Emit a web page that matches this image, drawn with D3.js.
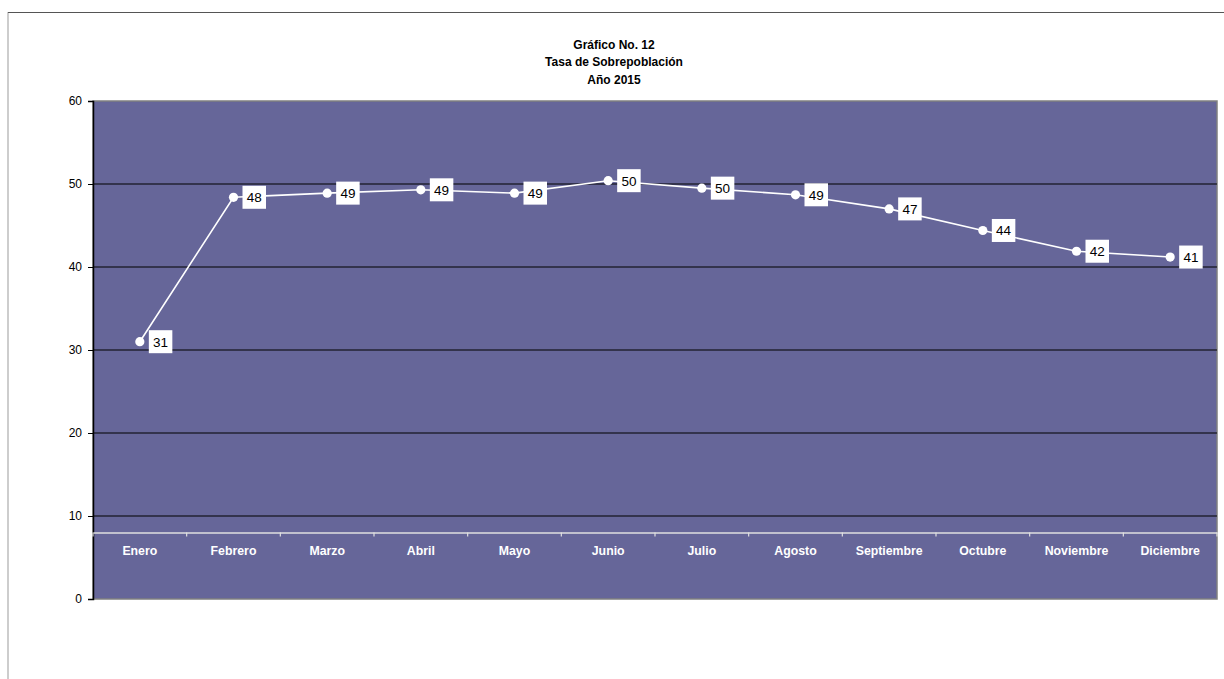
<!DOCTYPE html>
<html><head><meta charset="utf-8">
<script src="https://cdn.jsdelivr.net/npm/d3@7"></script>
<style>body{margin:0;background:#fff;}svg{display:block;font-family:Arial,"Liberation Sans",sans-serif;}</style>
</head><body>
<script>
const months = ["Enero","Febrero","Marzo","Abril","Mayo","Junio","Julio","Agosto","Septiembre","Octubre","Noviembre","Diciembre"];
const values = [31.0,48.4,48.9,49.3,48.9,50.4,49.5,48.7,47.0,44.4,41.9,41.2];
const yTicks = [0,10,20,30,40,50,60];
const titleLines = ["Gráfico No. 12","Tasa de Sobrepoblación","Año 2015"];
const axisCross = 8;

const W = 1224, H = 679;
const svg = d3.select("body").append("svg").attr("width", W).attr("height", H);

// chart area border
svg.append("line").attr("x1",8).attr("x2",8).attr("y1",12).attr("y2",H).attr("stroke","#bdbdbd").attr("stroke-width",1.5);
svg.append("line").attr("x1",8).attr("x2",W).attr("y1",12.5).attr("y2",12.5).attr("stroke","#555").attr("stroke-width",1);

const L = 93, R = 1217, T = 101, B = 599;
const x = d3.scaleBand().domain(months).range([L, R]).padding(0);
const y = d3.scaleLinear().domain([0, 60]).range([B, T]);

// plot background
svg.append("rect").attr("x",L).attr("y",T).attr("width",R-L).attr("height",B-T).attr("fill","#666699")
  .attr("stroke","#808080").attr("stroke-width",1.5);

// gridlines
svg.append("g").selectAll("line").data(yTicks.filter(d=>d>0 && d<60)).join("line")
  .attr("x1",L).attr("x2",R).attr("y1",d=>y(d)).attr("y2",d=>y(d))
  .attr("stroke","#000").attr("stroke-width",1.2);

// y axis
const yAxis = d3.axisLeft(y).tickValues(yTicks).tickSize(5).tickPadding(6).tickFormat(d3.format("d"));
const ya = svg.append("g").attr("transform",`translate(${L},0)`).call(yAxis);
ya.select(".domain").attr("stroke","#000").attr("stroke-width",1.5);
ya.selectAll(".tick line").attr("stroke","#000");
ya.selectAll(".tick text").attr("font-size","12px").attr("fill","#000").attr("font-family","Arial, Liberation Sans, sans-serif");

// category axis (white) crossing at axisCross
const xAxis = d3.axisBottom(x).tickSize(0).tickPadding(13.5);
const xa = svg.append("g").attr("transform",`translate(0,${y(axisCross)})`).call(xAxis);
xa.select(".domain").attr("stroke","#e0e0e0").attr("stroke-width",1.5);
xa.selectAll(".tick text").attr("font-size","12.3px").attr("font-weight","bold").attr("fill","#fff")
  .attr("font-family","Arial, Liberation Sans, sans-serif");
// boundary tick marks
const bounds = months.map(m=>x(m)).concat([R]);
xa.append("g").selectAll("line").data(bounds).join("line")
  .attr("x1",d=>d).attr("x2",d=>d).attr("y1",0).attr("y2",4).attr("stroke","#e0e0e0").attr("stroke-width",1.2);

// line
const cx = m => x(m) + x.bandwidth()/2;
const line = d3.line().x((d,i)=>cx(months[i])).y(d=>y(d));
svg.append("path").datum(values).attr("d",line).attr("fill","none").attr("stroke","#fff").attr("stroke-width",1.6);
svg.append("g").selectAll("circle").data(values).join("circle")
  .attr("cx",(d,i)=>cx(months[i])).attr("cy",d=>y(d)).attr("r",4.6).attr("fill","#fff");

// labels
const fmt = d3.format(".0f");
const lg = svg.append("g").selectAll("g").data(values).join("g")
  .attr("transform",(d,i)=>`translate(${cx(months[i])+9},${y(d)})`);
lg.append("rect").attr("x",0).attr("y",-11.5).attr("width",23.5).attr("height",23).attr("fill","#fff");
lg.append("text").attr("x",11.75).attr("y",5).attr("text-anchor","middle").attr("font-size","13.5px").attr("fill","#000")
  .text(d=>fmt(d));

// title
svg.append("g").selectAll("text").data(titleLines).join("text")
  .attr("x",614).attr("y",(d,i)=>48.5+i*17.5).attr("text-anchor","middle")
  .attr("font-size","12px").attr("font-weight","bold").attr("fill","#000").text(d=>d);
</script>
</body></html>
